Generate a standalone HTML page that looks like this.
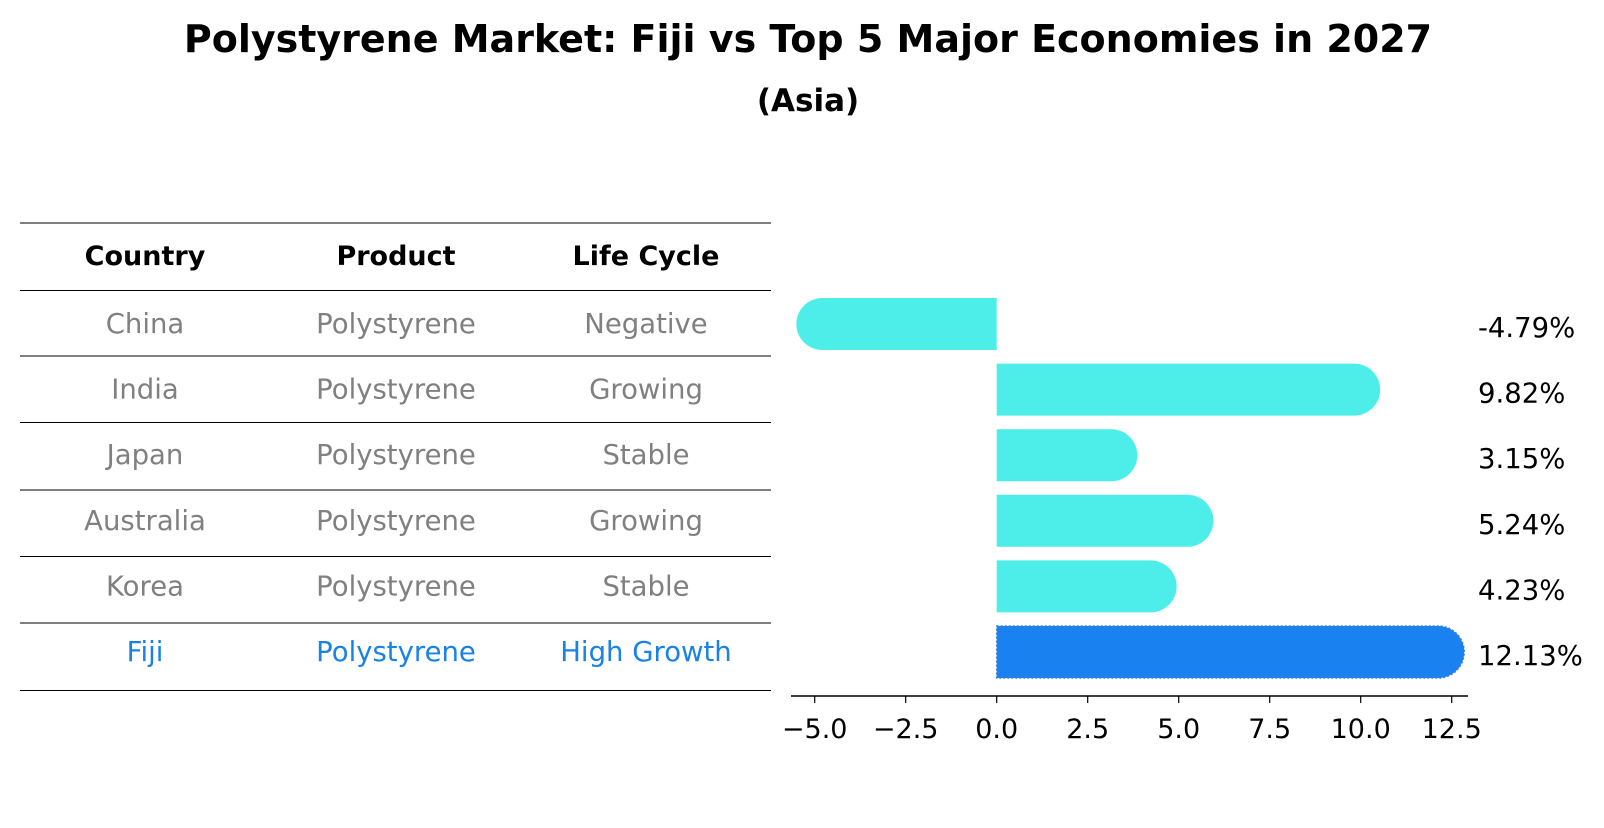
<!DOCTYPE html>
<html><head><meta charset="utf-8"><style>
body{margin:0;background:#fff;font-family:"Liberation Sans","DejaVu Sans",sans-serif;}
svg text{font-family:"DejaVu Sans","Liberation Sans",sans-serif;}
</style></head><body>
<svg id="c" width="1604" height="823" viewBox="0 0 1604 823" xmlns="http://www.w3.org/2000/svg">
<text x="808" y="52" text-anchor="middle" font-size="38" font-weight="bold">Polystyrene Market: Fiji vs Top 5 Major Economies in 2027</text>
<text x="808" y="111" text-anchor="middle" font-size="31" font-weight="bold">(Asia)</text>
<g id="tbl"></g>
<g id="bars"></g>
<g id="axis"></g>
</svg>
<script>
const countries=["China","India","Japan","Australia","Korea","Fiji"];
const products=["Polystyrene","Polystyrene","Polystyrene","Polystyrene","Polystyrene","Polystyrene"];
const lifeCycles=["Negative","Growing","Stable","Growing","Stable","High Growth"];
const growth=[-4.79,9.82,3.15,5.24,4.23,12.13];
const ticks=[-5.0,-2.5,0.0,2.5,5.0,7.5,10.0,12.5];
const NS="http://www.w3.org/2000/svg";
function mk(t,a,p){const e=document.createElementNS(NS,t);for(const k in a)e.setAttribute(k,a[k]);p.appendChild(e);return e;}
const x0=996.7,pu=36.4;
function xs(v){return x0+v*pu;}
function yc(i){return 324+i*65.6;}
const tbl=document.getElementById('tbl');
const lines=[223,290.5,356,422.5,490,556.5,623,690.5];
lines.forEach((y,i)=>{const l=mk('line',{x1:20,x2:771,y1:y,y2:y,stroke:'#000','stroke-width':1},tbl);

});
const cx=[145,396,646];
["Country","Product","Life Cycle"].forEach((h,j)=>{const t=mk('text',{x:cx[j],y:265,'text-anchor':'middle','font-size':27,'font-weight':'bold'},tbl);t.textContent=h;

});
countries.forEach((c,i)=>{const col=i===5?'#1a82e6':'#808080';
[c,products[i],lifeCycles[i]].forEach((v,j)=>{const t=mk('text',{x:cx[j],y:yc(i)+9,'text-anchor':'middle','font-size':27.5,fill:col},tbl);t.textContent=v;

});});
const bars=document.getElementById('bars');const r=26;
growth.forEach((v,i)=>{const y=yc(i),x=xs(v),z=xs(0);const dir=v>=0?1:-1;
const d=`M${z},${y-r} L${x},${y-r} A${r},${r} 0 0 ${dir>0?1:0} ${x},${y+r} L${z},${y+r} Z`;
const fiji=i===5;
const p=mk('path',{d:d,fill:fiji?'#1a82f0':'#4deee9',stroke:fiji?'#3a7fd0':'none','stroke-width':fiji?1.5:0,'stroke-dasharray':fiji?'2,2':''},bars);


const t=mk('text',{x:1478,y:y+13,'font-size':27.5},bars);t.textContent=v.toFixed(2)+'%';

});
const ax=document.getElementById('axis');
const al=mk('line',{x1:791,x2:1468,y1:696,y2:696,stroke:'#000','stroke-width':1.5},ax);


ticks.forEach(v=>{mk('line',{x1:xs(v),x2:xs(v),y1:696,y2:703,stroke:'#000','stroke-width':1.2},ax);
const t=mk('text',{x:xs(v),y:738,'text-anchor':'middle','font-size':27},ax);t.textContent=v.toFixed(1).replace('-','\u2212');

});
</script>
</body></html>
